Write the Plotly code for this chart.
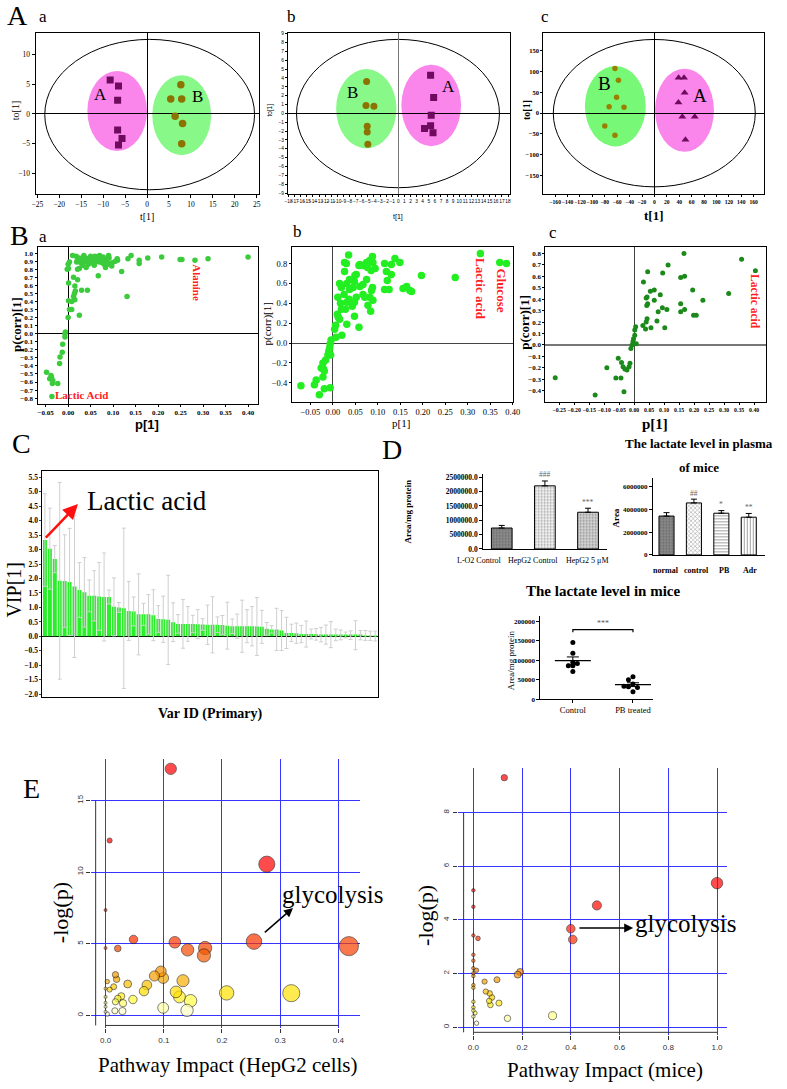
import numpy as np
import plotly.graph_objects as go

W, H = 787, 1089
SERIF = "Liberation Serif"
SANS = "Liberation Sans"

# ---------------- Panel A (score plots) ----------------
aa_A_t = [-8.4, -6.5, -6.7, -6.7, -5.7, -6.5]
aa_A_to = [5.7, 4.7, 2.3, -2.7, -4.1, -5.2]
aa_B_t = [7.7, 5.4, 7.9, 6.4, 8.1, 7.9]
aa_B_to = [4.9, 2.5, 2.5, -0.4, -1.6, -5.0]
aa_ellipse = [-23.3, 24.5, -12.7, 12.5]
aa_ellA = [-13.6, 0.0, -6.2, 7.2]
aa_ellB = [1.2, 14.6, -6.9, 6.5]

ab_B_t = [-5.2, -5.3, -4.0, -5.1, -5.1, -5.0]
ab_B_to = [3.6, 0.9, 0.8, -1.45, -2.1, -3.5]
ab_A_t = [5.3, 5.8, 5.4, 4.3, 5.3, 5.7]
ab_A_to = [4.3, 1.8, -0.2, -1.7, -1.4, -2.2]
ab_ellipse = [-16.7, 16.6, -8.4, 8.36]
ab_ellB = [-10.2, -0.3, -3.95, 5.0]
ab_ellA = [0.5, 10.3, -3.7, 5.5]

ac_B_t = [-63.6, -58, -61, -73, -49, -80, -63.6]
ac_B_to = [107, 79, 38, 15, 14, -31, -53]
ac_A_t = [39, 47.7, 48.7, 38.7, 45, 65, 50]
ac_A_to = [85, 85, 48.5, 25.5, -9, -9, -64]
ac_ellipse = [-163, 162.6, -177, 176.6]
ac_ellB = [-112, -14, -80, 113]
ac_ellA = [1, 96, -93, 106.6]

# ---------------- Panel B (S-plots) ----------------
ba_p = [0.000, 0.003, 0.001, -0.002, 0.018, 0.019, 0.021, 0.025, 0.028, 0.032,
        0.036, 0.039, 0.043, 0.045, 0.048, 0.052, 0.055, 0.061, 0.065, 0.072,
        0.076, 0.078, 0.083, 0.087, 0.091, 0.098, 0.105, 0.109, 0.025, 0.040,
        0.032, 0.021, 0.058, 0.069, 0.080, 0.089, 0.097, 0.083, 0.067, 0.119,
        0.133, 0.140, 0.158, 0.158, 0.177, 0.208, 0.249, 0.253, 0.282, 0.311,
        0.400, 0.010, 0.050, 0.070, 0.090, 0.035, 0.110, 0.060,
        0.012, 0.001, 0.015, 0.016, 0.030, 0.043, 0.021, 0.012, 0.001, 0.008,
        0.015, 0.131, 0.003, 0.008, 0.025, 0.000, 0.014,
        -0.007, -0.007, -0.006,
        -0.012, -0.013, -0.018, -0.019, -0.048, -0.037, -0.034, -0.035, -0.023,
        -0.036, -0.041, -0.038]
ba_pcorr = [0.86, 0.89, 0.81, 0.80, 0.96, 0.89, 0.92, 0.94, 0.88, 0.92,
            0.89, 0.94, 0.90, 0.86, 0.93, 0.88, 0.92, 0.89, 0.94, 0.92,
            0.88, 0.95, 0.92, 0.89, 0.94, 0.88, 0.90, 0.93, 0.81, 0.82,
            0.85, 0.80, 0.85, 0.89, 0.86, 0.86, 0.84, 0.82, 0.72, 0.77,
            0.93, 0.97, 0.91, 0.87, 0.94, 0.95, 0.92, 0.92, 0.91, 0.93,
            0.95, 0.97, 0.96, 0.97, 0.97, 0.97, 0.91, 0.96,
            0.70, 0.63, 0.59, 0.53, 0.54, 0.54, 0.67, 0.46, 0.41, 0.40,
            0.42, 0.46, 0.30, 0.30, 0.23, 0.20, 0.50,
            0.00, -0.04, 0.02,
            -0.13, -0.23, -0.29, -0.37, -0.48, -0.54, -0.58, -0.62, -0.62,
            -0.78, -0.56, -0.52]

bb_p = [0.035, 0.026, 0.030, 0.060, 0.058, 0.075, 0.082, 0.088, 0.089, 0.094, 0.085, 0.067, 0.077,
        0.026, 0.052, 0.049, 0.048, 0.037, 0.031, 0.015, 0.019, 0.025, 0.037,
        0.045, 0.060, 0.067, 0.075, 0.088, 0.086, 0.067, 0.071, 0.082, 0.089,
        0.078, 0.084, 0.052, 0.048, 0.043, 0.036, 0.031, 0.028, 0.011, 0.017,
        0.019, 0.010, 0.012, 0.031, 0.048, 0.058, 0.020, 0.006, 0.004,
        0.115, 0.130, 0.138, 0.149, 0.119, 0.130, 0.121, 0.115, 0.125, 0.197, 0.272, 0.156, 0.164, 0.171, 0.175,
        0.328, 0.371, 0.386,
        -0.004, -0.006, -0.007, -0.009, -0.011, -0.005, -0.016, -0.022, -0.021, -0.026,
        -0.019, -0.022, -0.037, -0.041, -0.071, -0.030, -0.019, -0.006, 0.007, 0.015]
bb_pcorr = [0.887, 0.81, 0.80, 0.79, 0.78, 0.81, 0.83, 0.87, 0.81, 0.75, 0.73, 0.78, 0.76,
            0.72, 0.69, 0.68, 0.62, 0.64, 0.60, 0.60, 0.56, 0.49, 0.54,
            0.56, 0.57, 0.59, 0.64, 0.56, 0.53, 0.49, 0.46, 0.46, 0.43,
            0.38, 0.32, 0.46, 0.41, 0.37, 0.44, 0.41, 0.34, 0.46, 0.40,
            0.34, 0.29, 0.26, 0.19, 0.27, 0.16, 0.08, 0.18, 0.14,
            0.80, 0.79, 0.85, 0.81, 0.72, 0.69, 0.63, 0.54, 0.54, 0.68, 0.66, 0.55, 0.57, 0.53, 0.52,
            0.90, 0.81, 0.80,
            0.03, -0.01, -0.05, -0.08, -0.12, -0.12, -0.17, -0.20, -0.26, -0.25,
            -0.28, -0.34, -0.37, -0.42, -0.43, -0.52, -0.46, -0.45, 0.06, 0.24]

bc_p = [-0.263, -0.130, -0.091, -0.061, -0.044, -0.053, -0.042, -0.037, -0.031, -0.024, -0.017, -0.014, -0.034,
        -0.011, -0.007, -0.004, -0.002, 0.002, 0.002, 0.005, 0.007,
        0.029, 0.038, 0.040, 0.043, 0.042, 0.045, 0.040, 0.043,
        0.031, 0.045, 0.054, 0.067, 0.067, 0.080, 0.076, 0.056, 0.087, 0.094, 0.095, 0.102, 0.109, 0.113,
        0.155, 0.155, 0.155, 0.168, 0.168, 0.166, 0.195, 0.198, 0.207, 0.229, 0.315, 0.358, 0.404]
bc_pcorr = [-0.287, -0.438, -0.20, -0.29, -0.29, -0.116, -0.154, -0.19, -0.21, -0.22, -0.19, -0.16, -0.41,
            -0.03, 0.0, 0.03, 0.055, 0.084, 0.13, 0.16, 0.01,
            0.17, 0.14, 0.20, 0.23, 0.345, 0.36, 0.41, 0.42,
            0.55, 0.64, 0.47, 0.48, 0.39, 0.29, 0.21, 0.15, 0.44, 0.325, 0.63, 0.15, 0.31, 0.70,
            0.36, 0.29, 0.59, 0.60, 0.31, 0.80, 0.48, 0.26, 0.26, 0.39, 0.45, 0.75, 0.65]

# ---------------- Panel C (VIP) ----------------
vip = [3.33, 3.03, 2.67, 1.92, 1.91, 1.88, 1.72, 1.60, 1.52, 1.40,
       1.40, 1.38, 1.36, 1.36, 1.02, 1.00, 0.97, 0.88, 0.86, 0.76,
       0.76, 0.76, 0.73, 0.60, 0.59, 0.57, 0.49, 0.43, 0.43, 0.43,
       0.43, 0.42, 0.41, 0.40, 0.40, 0.40, 0.39, 0.37, 0.35, 0.35,
       0.35, 0.35, 0.35, 0.34, 0.33, 0.26, 0.24, 0.24, 0.20, 0.12,
       0.12, 0.11, 0.08, 0.08, 0.08, 0.07, 0.06, 0.06, 0.06, 0.05,
       0.05, 0.05, 0.04, 0.04, 0.04, 0.03, 0.02, 0.01]
vip_err = [1.6, 1.4, 0.47, 3.4, 1.6, 1.85, 2.45, 0.95, 1.2, 0.55,
           0.87, 1.17, 1.52, 0.24, 1.0, 0.17, 2.77, 1.02, 0.5, 1.4,
           0.38, 0.68, 0.88, 0.46, 0.8, 1.54, 0.67, 0.32, 0.84, 0.6,
           0.3, 0.5, 0.2, 0.68, 0.97, 0.27, 0.33, 0.81, 0.25, 0.42,
           0.9, 0.57, 0.68, 1.0, 0.57, 0.22, 0.13, 0.73, 0.69, 0.54,
           0.3, 0.35, 0.3, 0.45, 0.17, 0.2, 0.25, 0.33, 0.45, 0.2,
           0.17, 0.1, 0.15, 0.5, 0.16, 0.17, 0.16, 0.17]
vip_ids = list(range(len(vip)))

# ---------------- Panel D ----------------
d1_groups = ["L-O2 Control", "HepG2 Control", "HepG2 5 μM"]
d1_vals = [730000, 2200000, 1280000]
d1_err = [90000, 170000, 140000]
d1_marks = ["", "###", "***"]

d2_groups = ["normal", "control", "PB", "Adr"]
d2_vals = [3400000, 4550000, 3650000, 3300000]
d2_err = [300000, 330000, 230000, 330000]
d2_marks = ["", "##", "*", "**"]

d3_groups = ["Control", "PB treated"]
d3_control = [146000, 118000, 95000, 86000, 86000, 92000, 71000]
d3_pb = [57700, 50000, 38800, 31900, 30000, 33000, 19000]

# ---------------- Panel E (pathway impact) ----------------
e1_impact = [0.112, 0.007, 0.277, 0.0, 0.0, 0.021, 0.048, 0.119, 0.141, 0.171,
             0.169, 0.255, 0.418, 0.017, 0.019, 0.003, 0.038, 0.0, 0.007, 0.014,
             0.095, 0.084, 0.099, 0.071, 0.066, 0.133, 0.121, 0.127, 0.146, 0.208,
             0.319, 0.047, 0.027, 0.021, 0.017, 0.030, 0.0, 0.0, 0.0, 0.099,
             0.140, 0.016, 0.029, 0.003, 0.0]
e1_logp = [17.2, 12.2, 10.55, 7.35, 4.7, 4.67, 5.3, 5.1, 4.57, 4.7,
           4.18, 5.15, 4.83, 2.84, 2.52, 2.36, 2.19, 1.87, 1.8, 2.0,
           3.07, 2.75, 2.61, 2.12, 1.69, 2.42, 1.64, 1.29, 1.02, 1.57,
           1.55, 1.11, 1.34, 1.18, 0.95, 0.85, 1.29, 0.88, 0.6, 0.53,
           0.35, 0.32, 0.30, 0.09, 0.25]
e2_impact = [0.127, 1.0, 0.507, 0.40, 0.408, 0.0, 0.0, 0.0, 0.019, 0.0,
             0.0, 0.0, 0.013, 0.0, 0.0, 0.192, 0.182, 0.097, 0.046, 0.0,
             0.0, 0.051, 0.067, 0.076, 0.065, 0.105, 0.070, 0.0, 0.0, 0.0,
             0.007, 0.0, 0.140, 0.325, 0.013]
e2_logp = [9.30, 5.37, 4.54, 3.67, 3.27, 5.1, 4.49, 3.42, 3.31, 2.70,
           2.48, 2.2, 2.12, 2.01, 1.91, 2.06, 1.96, 1.77, 1.70, 1.57,
           1.47, 1.33, 1.26, 1.11, 0.98, 0.90, 0.83, 0.95, 0.74, 0.62,
           0.53, 0.40, 0.33, 0.43, 0.15]

# =====================================================================
fig = go.Figure()


def axes(n, l, r, t, b, xr, yr, xkw=None, ykw=None):
    sx = '' if n == 1 else str(n)
    xa = dict(domain=[l / W, r / W], range=xr, anchor='y' + sx, showgrid=False, zeroline=False)
    ya = dict(domain=[1 - b / H, 1 - t / H], range=yr, anchor='x' + sx, showgrid=False, zeroline=False)
    xa.update(xkw or {})
    ya.update(ykw or {})
    fig.update_layout(**{'xaxis' + sx: xa, 'yaxis' + sx: ya})
    return 'x' + sx, 'y' + sx


def tf(size, family=SERIF, bold=False, color='black'):
    d = dict(family=family, size=size, color=color)
    if bold:
        d['weight'] = 'bold'
    return d


def ptxt(x, y, text, size, family=SERIF, bold=False, angle=0, color='black', xanchor='center'):
    fig.add_annotation(x=x / W, y=1 - y / H, xref='paper', yref='paper', text=text, showarrow=False,
                       font=tf(size, family, bold, color), textangle=angle, xanchor=xanchor, yanchor='middle')


def dtxt(xr, yr, x, y, text, size, family=SERIF, bold=False, angle=0, color='black'):
    fig.add_annotation(x=x, y=y, xref=xr, yref=yr, text=text, showarrow=False,
                       font=tf(size, family, bold, color), textangle=angle)


def ellipse(xr, yr, e, fill=None, line=None):
    fig.add_shape(type='circle', xref=xr, yref=yr, x0=e[0], x1=e[1], y0=e[2], y1=e[3],
                  fillcolor=fill if fill else 'rgba(0,0,0,0)',
                  line=line if line else dict(width=0), layer='below')


BOX = dict(showline=True, mirror=True, linecolor='black', linewidth=1, ticks='outside',
           ticklen=3, tickcolor='black', zeroline=True, zerolinecolor='black', zerolinewidth=1.3,
           tickangle=0)

PINK = '#FA86EC'
LGREEN = '#88F888'
PURPLE = '#6E0B5E'
OLIVE = '#8C7200'

# ---------- A a ----------
xa_, ya_ = axes(1, 32, 259, 32, 194, [-25.4, 25.6], [-13.4, 13.6],
                dict(BOX, tickvals=list(range(-25, 26, 5)), tickfont=tf(7.5)),
                dict(BOX, tickvals=[-10, -5, 0, 5, 10], tickfont=tf(7.5)))
ellipse(xa_, ya_, aa_ellipse, line=dict(color='black', width=1))
ellipse(xa_, ya_, aa_ellA, fill=PINK)
ellipse(xa_, ya_, aa_ellB, fill=LGREEN)
fig.add_trace(go.Scatter(x=aa_A_t, y=aa_A_to, mode='markers', xaxis=xa_, yaxis=ya_,
                         marker=dict(symbol='square', size=7, color=PURPLE)))
fig.add_trace(go.Scatter(x=aa_B_t, y=aa_B_to, mode='markers', xaxis=xa_, yaxis=ya_,
                         marker=dict(symbol='circle', size=7.5, color=OLIVE)))
dtxt(xa_, ya_, -10.6, 3.3, "A", 17)
dtxt(xa_, ya_, 11.4, 2.9, "B", 17)

# ---------- A b ----------
xb_, yb_ = axes(2, 288, 513, 32, 194, [-18.1, 18.3], [-9.1, 9.1],
                dict(BOX, tickvals=list(range(-18, 19)), tickfont=tf(4.8, SANS), ticklen=2,
                     zerolinecolor='#777777'),
                dict(BOX, tickvals=list(range(-9, 10)), tickfont=tf(4.8, SANS), ticklen=2))
ellipse(xb_, yb_, ab_ellipse, line=dict(color='black', width=1))
ellipse(xb_, yb_, ab_ellB, fill=LGREEN)
ellipse(xb_, yb_, ab_ellA, fill=PINK)
fig.add_trace(go.Scatter(x=ab_B_t, y=ab_B_to, mode='markers', xaxis=xb_, yaxis=yb_,
                         marker=dict(symbol='circle', size=7, color=OLIVE)))
fig.add_trace(go.Scatter(x=ab_A_t, y=ab_A_to, mode='markers', xaxis=xb_, yaxis=yb_,
                         marker=dict(symbol='square', size=7, color=PURPLE)))
dtxt(xb_, yb_, -7.5, 2.4, "B", 17)
dtxt(xb_, yb_, 8.2, 3.0, "A", 17)

# ---------- A c ----------
xc_, yc_ = axes(3, 547, 771, 32, 194, [-179, 177], [-194, 192.5],
                dict(BOX, tickvals=list(range(-160, 161, 20)), tickfont=tf(5.6, bold=True), ticklen=2),
                dict(BOX, tickvals=[-150, -100, -50, 0, 50, 100, 150], tickfont=tf(6.5, bold=True), ticklen=2))
ellipse(xc_, yc_, ac_ellipse, line=dict(color='black', width=1))
ellipse(xc_, yc_, ac_ellB, fill='#77F877')
ellipse(xc_, yc_, ac_ellA, fill=PINK)
fig.add_trace(go.Scatter(x=ac_B_t, y=ac_B_to, mode='markers', xaxis=xc_, yaxis=yc_,
                         marker=dict(symbol='circle', size=5.5, color='#9A8000')))
fig.add_trace(go.Scatter(x=ac_A_t, y=ac_A_to, mode='markers', xaxis=xc_, yaxis=yc_,
                         marker=dict(symbol='triangle-up', size=7, color=PURPLE)))
dtxt(xc_, yc_, -81, 72, "B", 19)
dtxt(xc_, yc_, 74, 43, "A", 19)

# ---------- B a ----------
x4, y4 = axes(4, 34, 258, 247, 405, [-0.068, 0.423], [-0.87, 1.08],
              dict(BOX, tickvals=[round(v, 2) for v in np.arange(-0.05, 0.41, 0.05)], tickformat='.2f',
                   tickfont=tf(7, bold=True), ticklen=2),
              dict(BOX, tickvals=[round(v, 1) for v in np.arange(-0.8, 1.01, 0.1)], tickformat='.1f',
                   tickfont=tf(7, bold=True), ticklen=2))
fig.add_trace(go.Scatter(x=ba_p, y=ba_pcorr, mode='markers', xaxis=x4, yaxis=y4,
                         marker=dict(size=5.5, color='#3CCB3C')))
dtxt(x4, y4, 0.285, 0.635, "Alanine", 11, bold=True, angle=90, color='#FF2020')
dtxt(x4, y4, 0.03, -0.76, "Lactic Acid", 11, bold=True, color='#FF2020')

# ---------- B b ----------
x5, y5 = axes(5, 292, 516, 247, 403, [-0.091, 0.40], [-0.59, 0.97],
              dict(BOX, tickvals=[round(v, 2) for v in np.arange(-0.05, 0.41, 0.05)], tickformat='.2f',
                   tickfont=tf(8.5), ticklen=2, zerolinecolor='#444444'),
              dict(BOX, tickvals=[-0.4, -0.2, 0, 0.2, 0.4, 0.6, 0.8], tickformat='.1f',
                   tickfont=tf(8.5), ticklen=2, zerolinecolor='#444444'))
fig.add_trace(go.Scatter(x=bb_p, y=bb_pcorr, mode='markers', xaxis=x5, yaxis=y5,
                         marker=dict(size=7.5, color='#22EE22')))
dtxt(x5, y5, 0.328, 0.54, "Lactic acid", 13, bold=True, angle=90, color='#FF2020')
dtxt(x5, y5, 0.376, 0.53, "Glucose", 13, bold=True, angle=90, color='#FF2020')

# ---------- B c ----------
x6, y6 = axes(6, 549, 773, 247, 403, [-0.296, 0.44], [-0.497, 0.86],
              dict(BOX, tickvals=[round(v, 2) for v in np.arange(-0.25, 0.41, 0.05)], tickformat='.2f',
                   tickfont=tf(5.8, bold=True), ticklen=2, zerolinecolor='#444444'),
              dict(BOX, tickvals=[round(v, 1) for v in np.arange(-0.4, 0.81, 0.1)], tickformat='.1f',
                   tickfont=tf(7, bold=True), ticklen=2, zerolinecolor='#777777', zerolinewidth=1.5))
fig.add_trace(go.Scatter(x=bc_p, y=bc_pcorr, mode='markers', xaxis=x6, yaxis=y6,
                         marker=dict(size=5, color='#1B8A1B')))
dtxt(x6, y6, 0.404, 0.38, "Lactic acid", 11.5, bold=True, angle=90, color='#FF2020')

# ---------- C ----------
x7, y7 = axes(7, 39, 379, 473, 700, [-0.5, len(vip) - 0.5], [-2.1, 5.7],
              dict(showline=True, mirror=True, linecolor='black', linewidth=1, showticklabels=False, ticks=''),
              dict(showline=True, mirror=True, linecolor='black', linewidth=1, ticks='outside', ticklen=2,
                   tickvals=[round(v, 1) for v in np.arange(-2.0, 5.51, 0.5)], tickformat='.1f',
                   tickfont=tf(7.5, bold=True), zeroline=True, zerolinecolor='black', zerolinewidth=1))
fig.add_trace(go.Bar(x=vip_ids, y=vip, xaxis=x7, yaxis=y7, width=0.82,
                     marker=dict(color='#2BEE2B', line=dict(width=0)),
                     error_y=dict(type='data', array=vip_err, color='#CFCFCF', thickness=1, width=2)))
fig.add_annotation(x=6.7, y=4.57, ax=-0.1, ay=3.36, xref=x7, yref=y7, axref=x7, ayref=y7, text='',
                   showarrow=True, arrowhead=2, arrowsize=1.2, arrowwidth=2.5, arrowcolor='#FF1010')
ptxt(145, 503, "Lactic acid", 27)

# ---------- D1 ----------
GP = dict(showline=True, linecolor='black', linewidth=1, ticks='outside', ticklen=3, tickcolor='black')
x8, y8 = axes(8, 486, 612, 476, 551, [-0.43, 2.45], [0, 2.6e6],
              dict(GP, type='category', ticks='', showticklabels=False),
              dict(GP, tickvals=[0, 5e5, 1e6, 1.5e6, 2e6, 2.5e6], tickformat='.1f', tickfont=tf(7.5, bold=True)))
fig.add_trace(go.Bar(x=d1_groups, y=d1_vals, xaxis=x8, yaxis=y8, width=0.48,
                     marker=dict(color=['#8C8C8C', '#F4F4F4', '#D6D6D6'],
                                 pattern=dict(shape=['.', '.', '.'], fgcolor=['#555555', '#BBBBBB', '#999999'],
                                              size=3, solidity=0.3),
                                 line=dict(color='black', width=1)),
                     error_y=dict(type='data', symmetric=False, array=d1_err, arrayminus=[0, 0, 0],
                                  color='black', thickness=1, width=3)))
for g, v, e, m in zip(d1_groups, d1_vals, d1_err, d1_marks):
    if m:
        fig.add_annotation(x=g, y=v + e, xref=x8, yref=y8, text=m, showarrow=False, yshift=6,
                           font=tf(7.5, color='#666666'))
for g, px in zip(d1_groups, [482, 537, 592]):
    ptxt(px, 563, g, 8)

# ---------- D2 ----------
x9, y9 = axes(9, 658, 772, 480, 557, [-0.5, 3.6], [0, 6.7e6],
              dict(GP, type='category', ticks='', showticklabels=False),
              dict(GP, tickvals=[0, 2e6, 4e6, 6e6], tickformat='d', tickfont=tf(7, bold=True)))
fig.add_trace(go.Bar(x=d2_groups, y=d2_vals, xaxis=x9, yaxis=y9, width=0.55,
                     marker=dict(color=['#8A8A8A', '#FFFFFF', '#FFFFFF', '#FFFFFF'],
                                 pattern=dict(shape=['.', 'x', '-', '|'],
                                              fgcolor=['#444444', '#333333', '#666666', '#888888'],
                                              size=3, solidity=0.35),
                                 line=dict(color='black', width=1)),
                     error_y=dict(type='data', symmetric=False, array=d2_err, arrayminus=[0, 0, 0, 0],
                                  color='black', thickness=1, width=3)))
for g, v, e, m in zip(d2_groups, d2_vals, d2_err, d2_marks):
    if m:
        fig.add_annotation(x=g, y=v + e, xref=x9, yref=y9, text=m, showarrow=False, yshift=6,
                           font=tf(7.5, color='#666666'))
for g, px in zip(d2_groups, [671, 702, 731, 757]):
    ptxt(px, 573, g, 8, bold=True)
ptxt(705, 445, "The lactate level in plasma", 13, bold=True)
ptxt(705, 469, "of mice", 13, bold=True)

# ---------- D3 ----------
x10, y10 = axes(10, 544, 658, 618, 702, [-0.54, 1.33], [0, 215000],
                dict(GP, tickvals=[0, 1], ticktext=d3_groups, tickfont=tf(8.5)),
                dict(GP, tickvals=[0, 50000, 100000, 150000, 200000], tickformat='d', tickfont=tf(7, bold=True)))


def swarm(vals, step=0.075, tol=9000):
    placed, offs = [], []
    for v in vals:
        for c in [0, -step, step, -2 * step, 2 * step, -3 * step, 3 * step]:
            if all(abs(c - po) >= step * 0.99 or abs(v - pv) >= tol for po, pv in placed):
                break
        placed.append((c, v))
        offs.append(c)
    return offs


for gi, vals in enumerate([d3_control, d3_pb]):
    offs = swarm(vals)
    fig.add_trace(go.Scatter(x=[gi + o for o in offs], y=vals, mode='markers', xaxis=x10, yaxis=y10,
                             marker=dict(size=5, color='black')))
    m = float(np.mean(vals))
    se = float(np.std(vals, ddof=1) / np.sqrt(len(vals)))
    fig.add_trace(go.Scatter(x=[gi - 0.3, gi + 0.3], y=[m, m], mode='lines', xaxis=x10, yaxis=y10,
                             line=dict(color='black', width=1.2)))
    fig.add_trace(go.Scatter(x=[gi - 0.1, gi + 0.1, None, gi, gi, None, gi - 0.1, gi + 0.1],
                             y=[m - se, m - se, None, m - se, m + se, None, m + se, m + se],
                             mode='lines', xaxis=x10, yaxis=y10, line=dict(color='black', width=1)))
fig.add_trace(go.Scatter(x=[0, 0, 1, 1], y=[172000, 179000, 179000, 172000], mode='lines',
                         xaxis=x10, yaxis=y10, line=dict(color='black', width=1.2)))
fig.add_annotation(x=0.5, y=179000, xref=x10, yref=y10, text="***", showarrow=False, yshift=6,
                   font=tf(8, color='#555555'))
ptxt(607, 593, "The lactate level in mice", 15, bold=True)

# ---------- E heat colours ----------
HEAT = [[0, '#FFFFF2'], [0.06, '#FFFFB0'], [0.13, '#FFFF40'], [0.2, '#FFE000'], [0.3, '#F8B000'],
        [0.42, '#F28000'], [0.55, '#F25000'], [0.68, '#FF2800'], [0.85, '#FF1000'], [1, '#FF0000']]
EG = dict(showgrid=True, gridcolor='#3535FF', gridwidth=1, ticks='outside', ticklen=4, tickcolor='#333333',
          tickfont=tf(8, SANS, color='#333333'), showline=False, zeroline=False)

# ---------- E1 ----------
x11, y11 = axes(11, 88, 361, 762, 1033, [-0.0254, 0.437], [-0.9, 17.9],
                dict(EG, tickvals=[0, 0.1, 0.2, 0.3, 0.4], tickformat='.1f'),
                dict(EG, tickvals=[0, 5, 10, 15], tickangle=-90))
order = np.argsort(e1_impact)[::-1]
ix = [e1_impact[i] for i in order]
iy = [e1_logp[i] for i in order]
fig.add_trace(go.Scatter(x=ix, y=iy, mode='markers', xaxis=x11, yaxis=y11,
                         marker=dict(size=[3 + 25 * np.sqrt(v) for v in ix], color=iy, colorscale=HEAT,
                                     cmin=0, cmax=8, line=dict(color='black', width=0.7))))
fig.add_shape(type='line', xref=x11, yref=y11, x0=-0.017, x1=-0.017, y0=-0.7, y1=15,
              line=dict(color='#333333', width=1))
fig.add_shape(type='line', xref=x11, yref=y11, x0=0, x1=0.4, y0=-0.7, y1=-0.7,
              line=dict(color='#333333', width=1))
fig.add_annotation(x=0.322, y=7.5, ax=0.271, ay=5.7, xref=x11, yref=y11, axref=x11, ayref=y11, text='',
                   showarrow=True, arrowhead=2, arrowsize=1.2, arrowwidth=1.5, arrowcolor='black')
ptxt(333, 898, "glycolysis", 25)
ptxt(58, 917, "-log(p)", 22, angle=-90)
ptxt(227, 1070, "Pathway Impact (HepG2 cells)", 21)

# ---------- E2 ----------
x12, y12 = axes(12, 460, 733, 771, 1040, [-0.0648, 1.040], [-0.30, 9.67],
                dict(EG, tickvals=[0, 0.2, 0.4, 0.6, 0.8, 1.0], tickformat='.1f'),
                dict(EG, tickvals=[0, 2, 4, 6, 8], tickangle=-90))
order = np.argsort(e2_impact)[::-1]
jx = [e2_impact[i] for i in order]
jy = [e2_logp[i] for i in order]
fig.add_trace(go.Scatter(x=jx, y=jy, mode='markers', xaxis=x12, yaxis=y12,
                         marker=dict(size=[3.5 + 8 * np.sqrt(v) for v in jx], color=jy, colorscale=HEAT,
                                     cmin=0, cmax=5, line=dict(color='black', width=0.7))))
fig.add_shape(type='line', xref=x12, yref=y12, x0=-0.040, x1=-0.040, y0=-0.19, y1=8,
              line=dict(color='#333333', width=1))
fig.add_shape(type='line', xref=x12, yref=y12, x0=0, x1=1.0, y0=-0.19, y1=-0.19,
              line=dict(color='#333333', width=1))
fig.add_annotation(x=0.656, y=3.70, ax=0.429, ay=3.70, xref=x12, yref=y12, axref=x12, ayref=y12, text='',
                   showarrow=True, arrowhead=2, arrowsize=1.2, arrowwidth=1.5, arrowcolor='black')
ptxt(638, 928, "glycolysis", 25, xanchor='left')
ptxt(428, 920, "-log(p)", 22, angle=-90)
ptxt(610, 1075, "Pathway Impact (mice)", 21)

# ---------- axis titles / panel letters ----------
ptxt(145, 217, "t[1]", 10)
ptxt(400, 217, "t[1]", 7, SANS)
ptxt(659, 216, "t[1]", 13, bold=True)
ptxt(12, 110, "to[1]", 10, angle=-90)
ptxt(270, 110, "to[1]", 6.5, SANS, angle=-90)
ptxt(530, 110, "to[1]", 10, bold=True, angle=-90)

ptxt(145, 426, "p[1]", 13, SANS, bold=True)
ptxt(403, 424, "p[1]", 11)
ptxt(660, 425, "p[1]", 15, bold=True)
ptxt(12, 325, "p(corr)[1]", 13, bold=True, angle=-90)
ptxt(267, 325, "p(corr)[1]", 11, angle=-90)
ptxt(528, 323, "p(corr)[1]", 13, bold=True, angle=-90)

ptxt(10, 592, "VIP[1]", 20, angle=-90)
ptxt(209, 717, "Var ID (Primary)", 14, bold=True)
ptxt(410, 514, "Area/mg protein", 9, bold=True, angle=-90)
ptxt(621, 520, "Area", 9, bold=True, angle=-90)
ptxt(515, 663, "Area/mg protein", 9, angle=-90)

for letter, x, y, s in [("A", 14, 15, 28), ("a", 40, 16, 17), ("b", 292, 16, 17), ("c", 549, 16, 17),
                        ("B", 16, 236, 28), ("a", 40, 237, 17), ("b", 298, 232, 17), ("c", 557, 233, 17),
                        ("C", 18, 445, 28), ("D", 393, 451, 28), ("E", 28, 792, 28)]:
    ptxt(x, y, letter, s)

fig.update_layout(width=W, height=H, margin=dict(l=0, r=0, t=0, b=0), showlegend=False,
                  plot_bgcolor='white', paper_bgcolor='white')

fig.write_html("out.html", config={'displayModeBar': False},
               post_script="document.body.style.margin='0';document.body.style.padding='0';"
                           "document.body.style.overflow='hidden';")
